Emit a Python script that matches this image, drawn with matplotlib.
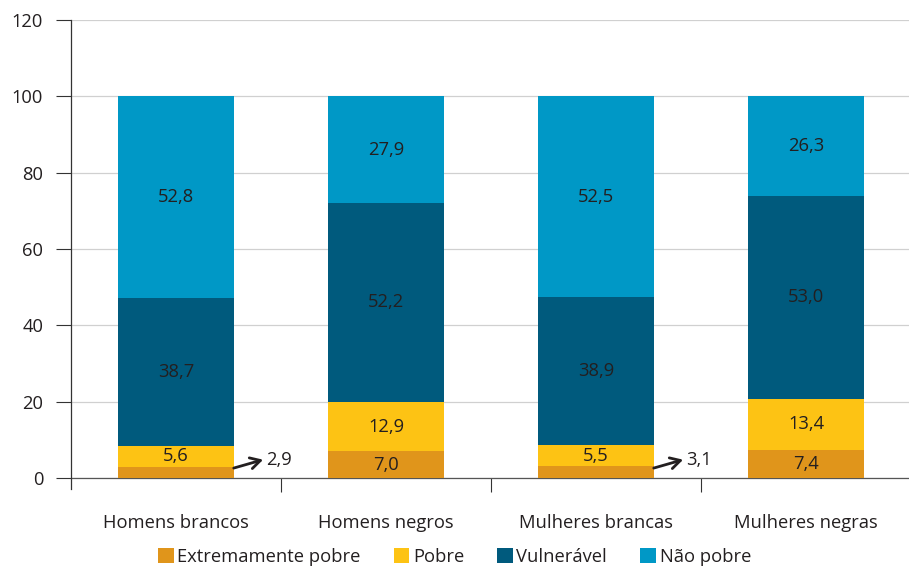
import numpy as np
import matplotlib
matplotlib.use('Agg')
import matplotlib.pyplot as plt
from matplotlib.patches import Patch

plt.rcParams['font.family'] = ['Open Sans', 'DejaVu Sans']

groups = ['Homens brancos', 'Homens negros', 'Mulheres brancas', 'Mulheres negras']
series = ['Extremamente pobre', 'Pobre', 'Vulnerável', 'Não pobre']
extremamente_pobre = [2.9, 7.0, 3.1, 7.4]
pobre = [5.6, 12.9, 5.5, 13.4]
vulneravel = [38.7, 52.2, 38.9, 53.0]
nao_pobre = [52.8, 27.9, 52.5, 26.3]
yticks = [0, 20, 40, 60, 80, 100, 120]

colors = ['#E0951B', '#FDC314', '#005A7D', '#0098C6']
txt = '#231F20'
fs = 13.2

fig = plt.figure(figsize=(9.09, 5.69), dpi=100)
ax = fig.add_axes([71 / 909, 1 - 478 / 569, 840 / 909, 458 / 569])

x = np.arange(len(groups))
width = 0.55
bottom = np.zeros(len(groups))
for vals, col in zip([extremamente_pobre, pobre, vulneravel, nao_pobre], colors):
    vals = np.array(vals)
    ax.bar(x, vals, width, bottom=bottom, color=col, zorder=3)
    for i, v in enumerate(vals):
        label = f'{v:.1f}'.replace('.', ',')
        if v >= 5:
            ax.text(x[i], bottom[i] + v / 2, label, ha='center', va='center',
                    fontsize=fs, color=txt, zorder=4)
        else:
            # small values labelled outside with an arrow
            ax.annotate('', xy=(x[i] + width / 2 + 0.14, bottom[i] + 4.8),
                        xytext=(x[i] + width / 2, bottom[i] + 2.6),
                        zorder=4,
                        arrowprops=dict(arrowstyle='->,head_length=0.45,head_width=0.25',
                                        color=txt, lw=2, mutation_scale=16,
                                        shrinkA=0, shrinkB=0))
            ax.text(x[i] + width / 2 + 0.155, bottom[i] + 4.6, label,
                    ha='left', va='center', fontsize=fs, color=txt, zorder=4)
    bottom += vals

ax.set_xlim(-0.5, 3.5)
ax.set_ylim(0, 120)
ax.set_yticks(yticks)
ax.yaxis.grid(True, color='#D0D0D0', lw=0.9, zorder=0)
ax.tick_params(axis='y', length=11, width=0.8, color='#333333', labelsize=fs,
               labelcolor=txt, pad=9)
ax.set_xticks(x)
ax.set_xticklabels(groups)
ax.tick_params(axis='x', length=0, labelsize=fs, labelcolor=txt, pad=26)
ax.set_xticks([0.5, 1.5, 2.5], minor=True)
ax.tick_params(axis='x', which='minor', length=10, width=0.8, color='#333333')
for s in ['top', 'right']:
    ax.spines[s].set_visible(False)
ax.spines['left'].set_color('#333333')
ax.spines['left'].set_linewidth(0.9)
ax.spines['left'].set_bounds(-3, 120)
ax.spines['bottom'].set_color('#555555')
ax.spines['bottom'].set_linewidth(0.9)
ax.spines['left'].set_zorder(5)

handles = [Patch(facecolor=c, edgecolor='none') for c in colors]
fig.legend(handles, series, loc='center', bbox_to_anchor=(0.5, 1 - 557 / 569),
           ncol=4, frameon=False, fontsize=fs, handlelength=0.85, handleheight=0.85,
           handletextpad=0.2, columnspacing=1.8, labelcolor=txt, borderaxespad=0)

fig.savefig('out.png', dpi=100)
